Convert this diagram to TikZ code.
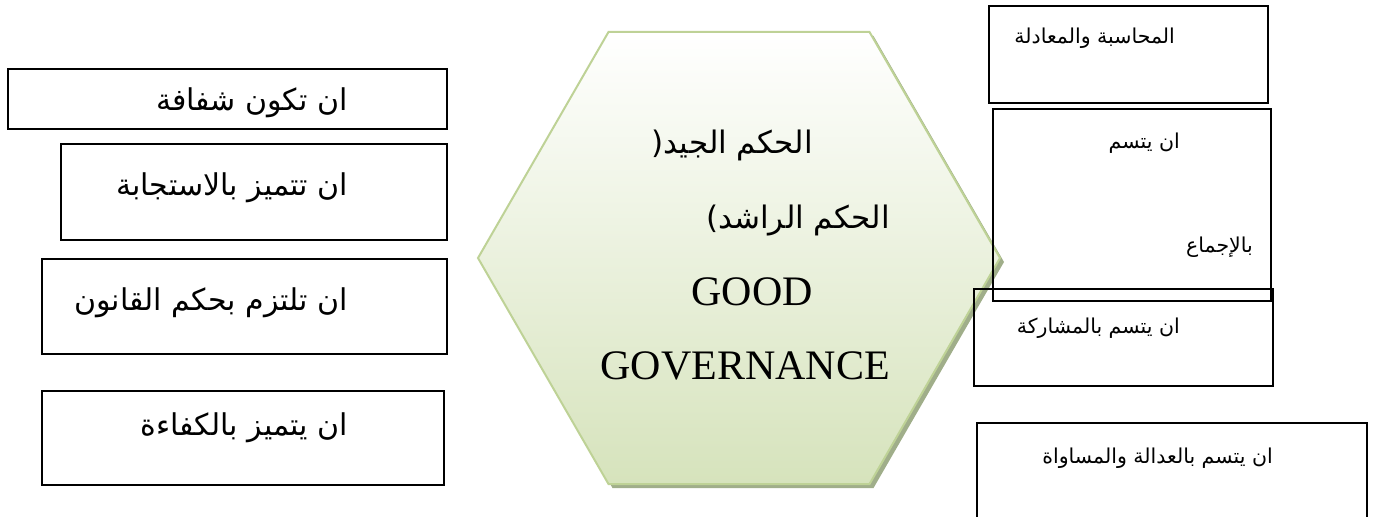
\documentclass[tikz,border=0pt]{standalone}
\usepackage{fontspec}
\setmainfont{Liberation Serif}
\newfontfamily\arabicfont[Script=Arabic]{DejaVu Sans}
\TeXXeTstate=1
\usetikzlibrary{shapes.geometric, shadows, positioning}
\definecolor{hexborder}{RGB}{190,210,150}
\definecolor{hexbottom}{RGB}{214,227,188}
\definecolor{hexshadow}{RGB}{160,174,138}
\tikzset{
    goal/.style={rectangle, draw=black, line width=1.5pt, inner sep=0pt, anchor=north west},
    leftlbl/.style={anchor=base east, inner sep=0pt, font=\arabicfont\fontsize{30}{34}\selectfont},
    rightlbl/.style={anchor=base east, inner sep=0pt, font=\arabicfont\fontsize{20.5}{24}\selectfont},
    hexlbl/.style={anchor=base east, inner sep=0pt, font=\arabicfont\fontsize{31}{35}\selectfont},
    enlbl/.style={anchor=base east, inner sep=0pt, font=\fontsize{42}{48}\selectfont}
}

\begin{document}
\begin{tikzpicture}[x=1pt, y=-1pt]
    \useasboundingbox (0,0) rectangle (1377,517);
    \clip (0,0) rectangle (1377,517);

    % Hexagon
    \node (hex) [regular polygon, regular polygon sides=6, minimum size=522pt, inner sep=0pt,
        draw=hexborder, line width=2pt, top color=white, bottom color=hexbottom,
        drop shadow={shadow xshift=4pt, shadow yshift=-4pt, fill=hexshadow, opacity=1}] at (739,258) {};
    \node (hexa) [hexlbl] at (813,153) {\beginR الحكم الجيد(\endR};
    \node (hexb) [hexlbl] at (890,228) {\beginR الحكم الراشد)\endR};
    \node (good) [enlbl] at (813,305) {GOOD};
    \node (gov) [enlbl] at (890,379) {GOVERNANCE};

    % Left boxes
    \node (transp) [goal, minimum width=439pt, minimum height=60pt] at (7,68) {};
    \node (respon) [goal, minimum width=386pt, minimum height=96pt] at (60,143) {};
    \node (law) [goal, minimum width=405pt, minimum height=95pt] at (41,258) {};
    \node (effic) [goal, minimum width=402pt, minimum height=94pt] at (41,390) {};
    \node (transpt) [leftlbl] at (348,110) {\beginR ان تكون شفافة\endR};
    \node (respont) [leftlbl] at (348,195) {\beginR ان تتميز بالاستجابة\endR};
    \node (lawt) [leftlbl] at (348,310) {\beginR ان تلتزم بحكم القانون\endR};
    \node (effict) [leftlbl] at (348,435) {\beginR ان يتميز بالكفاءة\endR};

    % Right boxes
    \node (account) [goal, minimum width=279pt, minimum height=97pt] at (988,5) {};
    \node (consens) [goal, minimum width=278pt, minimum height=192pt] at (992,108) {};
    \node (partic) [goal, minimum width=299pt, minimum height=97pt] at (973,288) {};
    \node (equity) [goal, minimum width=390pt, minimum height=140pt] at (976,422) {};
    \node (accountt) [rightlbl] at (1175,43) {\beginR المحاسبة والمعادلة\endR};
    \node (consensa) [rightlbl] at (1180,148) {\beginR ان يتسم\endR};
    \node (consensb) [rightlbl] at (1253,252) {\beginR بالإجماع\endR};
    \node (partict) [rightlbl] at (1180,333) {\beginR ان يتسم بالمشاركة\endR};
    \node (equityt) [rightlbl] at (1273,463) {\beginR ان يتسم بالعدالة والمساواة\endR};
\end{tikzpicture}
\end{document}
